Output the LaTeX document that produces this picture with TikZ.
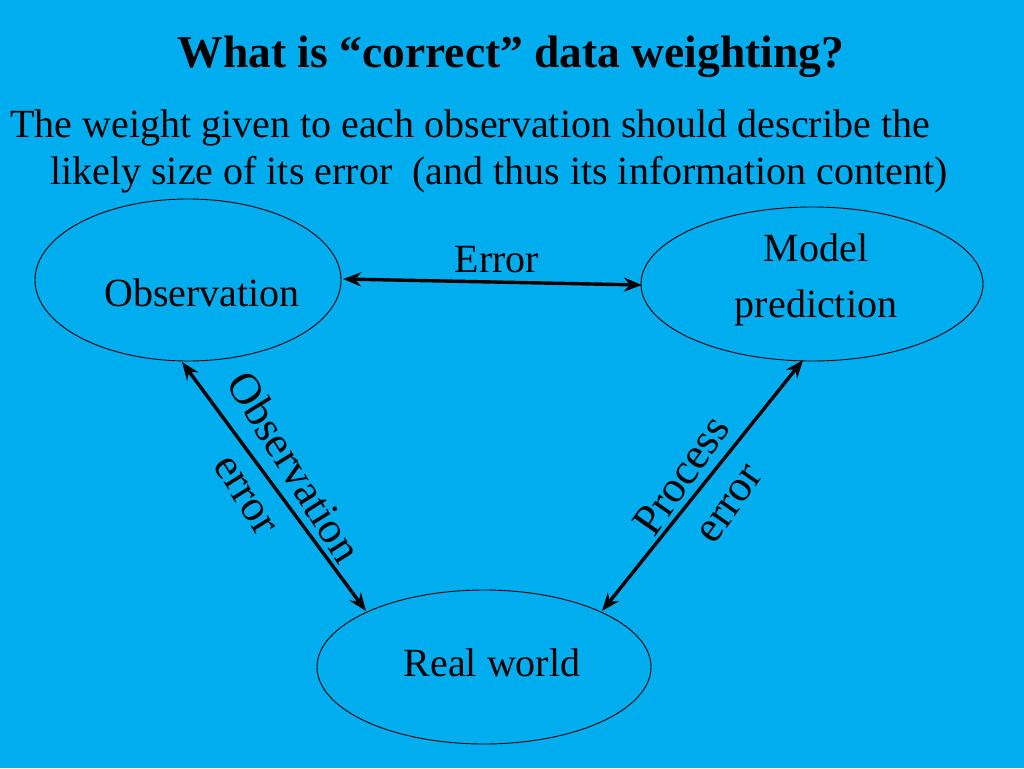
\documentclass[tikz,border=0pt]{standalone}
\usepackage{fontspec}
\setmainfont{Liberation Serif}
\usetikzlibrary{arrows.meta}
\definecolor{bg}{HTML}{00AEEF}
\begin{document}
\begin{tikzpicture}[x=1pt,y=-1pt,
  link/.style={line width=3.4pt,{Stealth[length=18pt,width=14pt]}-{Stealth[length=18pt,width=14pt]}},
  txt/.style={font=\fontsize{40}{56}\selectfont,inner sep=0pt},
  rtxt/.style={font=\fontsize{44}{50}\selectfont,inner sep=0pt}]
\fill[bg] (0,0) rectangle (1024,768);
\useasboundingbox (0,0) rectangle (1024,768);
\node[font=\fontsize{45.5}{50}\selectfont\bfseries] (title) at (511,57) {What is “correct” data weighting?};
\node[txt,anchor=base west] (l1) at (10,137) {The weight given to each observation should describe the};
\node[txt,anchor=base west] (l2) at (50,184) {likely size of its error\ \ (and thus its information content)};
\draw[line width=0.9pt] (188,280) ellipse [x radius=153,y radius=81];
\draw[line width=0.9pt] (812,284) ellipse [x radius=171,y radius=77];
\draw[line width=0.9pt] (484,667) ellipse [x radius=167,y radius=77];
\node[txt] (obs) at (202,293) {Observation};
\node[txt,align=center] (mod) at (816,280) {Model\\prediction};
\node[txt] (rw) at (492,663) {Real world};
\coordinate (a1) at (343,279); \coordinate (a2) at (642,285);
\coordinate (b1) at (182,362); \coordinate (b2) at (366,611);
\coordinate (c1) at (602,611); \coordinate (c2) at (803,360);
\draw[link] (a1) -- (a2);
\draw[link] (b1) -- (b2);
\draw[link] (c1) -- (c2);
\node[txt] (err) at (497,260) {Error};
\node[rtxt,rotate=-58] (oe1) at (295,467) {Observation};
\node[rtxt,rotate=-58] (oe2) at (244,496) {error};
\node[rtxt,rotate=55] (pe1) at (681,475) {Process};
\node[rtxt,rotate=55] (pe2) at (731,505) {error};
\end{tikzpicture}
\end{document}
